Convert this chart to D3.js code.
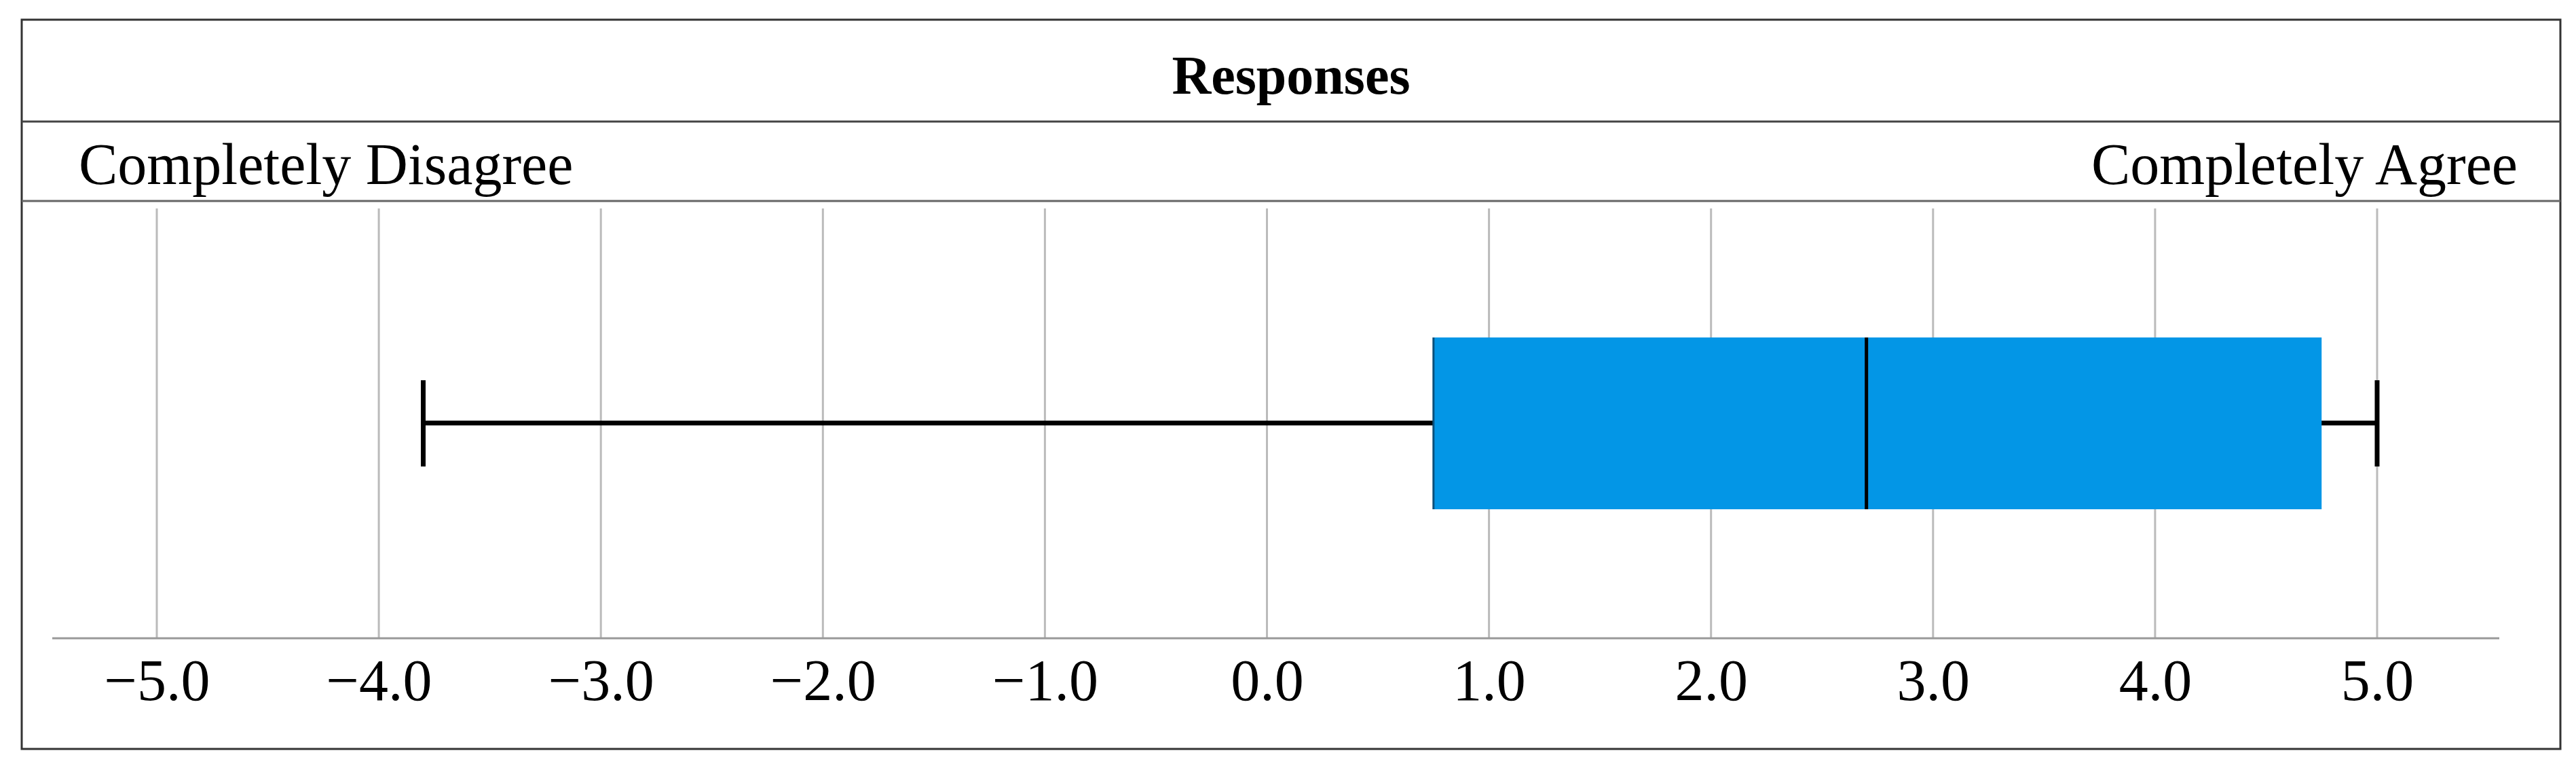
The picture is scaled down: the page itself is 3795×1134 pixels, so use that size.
<!DOCTYPE html>
<html>
<head>
<meta charset="utf-8">
<script src="https://cdn.jsdelivr.net/npm/d3@7"></script>
<style>
  body { margin: 0; background: #fff; }
  text { font-family: "Liberation Serif", serif; }
</style>
</head>
<body>
<svg id="chart" width="3795" height="1134"></svg>
<script>
var tickValues = [-5, -4, -3, -2, -1, 0, 1, 2, 3, 4, 5];
var boxStats = [{ min: -3.8, q1: 0.75, median: 2.7, q3: 4.75, max: 5.0 }];
var title = "Responses";
var endLabels = ["Completely Disagree", "Completely Agree"];

var svg = d3.select("#chart");
var W = 3795;

// x scale: -5 at 231, 5 at 3502
var x = d3.scaleLinear().domain([-5, 5]).range([231, 3502]);
var axisY = 940;

// outer frame and row separators
svg.append("rect").attr("x", 32).attr("y", 29).attr("width", 3740).attr("height", 1074)
    .attr("fill", "none").attr("stroke", "#333").attr("stroke-width", 3);
svg.append("line").attr("x1", 32).attr("x2", 3772).attr("y1", 179).attr("y2", 179)
    .attr("stroke", "#444").attr("stroke-width", 3);
svg.append("line").attr("x1", 32).attr("x2", 3772).attr("y1", 296).attr("y2", 296)
    .attr("stroke", "#666").attr("stroke-width", 3);

svg.append("text").attr("x", (32 + 3772) / 2).attr("y", 138).attr("text-anchor", "middle")
    .attr("font-size", 80).attr("font-weight", "bold").text(title);
svg.append("text").attr("x", 116).attr("y", 271).attr("font-size", 86).text(endLabels[0]);
svg.append("text").attr("x", 3709).attr("y", 271).attr("text-anchor", "end")
    .attr("font-size", 86).text(endLabels[1]);

// gridlines
svg.append("g").selectAll("line").data(tickValues).join("line")
    .attr("x1", d => x(d)).attr("x2", d => x(d))
    .attr("y1", 307).attr("y2", axisY)
    .attr("stroke", "#bbb").attr("stroke-width", 3);

// axis
var axis = d3.axisBottom(x).tickValues(tickValues).tickSize(0).tickPadding(30)
    .tickFormat(d3.format(".1f"));
var g = svg.append("g").attr("transform", "translate(0," + axisY + ")").call(axis);
g.select(".domain").remove();
g.selectAll("text").attr("font-size", 86).attr("font-family", "Liberation Serif, serif")
    .attr("fill", "#000").attr("dy", "0.71em");
svg.append("line").attr("x1", 77).attr("x2", 3682).attr("y1", axisY).attr("y2", axisY)
    .attr("stroke", "#999").attr("stroke-width", 3);

// box plot
var y = d3.scaleBand().domain([0]).range([307, axisY]).padding(0.3);
var cy = 623, boxTop = 497, boxBot = 750, capTop = 560, capBot = 687;
var b = svg.append("g").selectAll("g").data(boxStats).join("g");
b.append("line").attr("x1", d => x(d.min)).attr("x2", d => x(d.max)).attr("y1", cy).attr("y2", cy)
    .attr("stroke", "#000").attr("stroke-width", 7);
b.append("line").attr("x1", d => x(d.min)).attr("x2", d => x(d.min)).attr("y1", capTop).attr("y2", capBot)
    .attr("stroke", "#000").attr("stroke-width", 7);
b.append("line").attr("x1", d => x(d.max)).attr("x2", d => x(d.max)).attr("y1", capTop).attr("y2", capBot)
    .attr("stroke", "#000").attr("stroke-width", 7);
b.append("rect").attr("x", d => x(d.q1)).attr("width", d => x(d.q3) - x(d.q1))
    .attr("y", boxTop).attr("height", boxBot - boxTop).attr("fill", "#0396e6");
b.append("line").attr("x1", d => x(d.q1)).attr("x2", d => x(d.q1)).attr("y1", boxTop).attr("y2", boxBot)
    .attr("stroke", "#0a4f7a").attr("stroke-width", 3);
b.append("line").attr("x1", d => x(d.median)).attr("x2", d => x(d.median)).attr("y1", boxTop).attr("y2", boxBot)
    .attr("stroke", "#000").attr("stroke-width", 5);
</script>
</body>
</html>
